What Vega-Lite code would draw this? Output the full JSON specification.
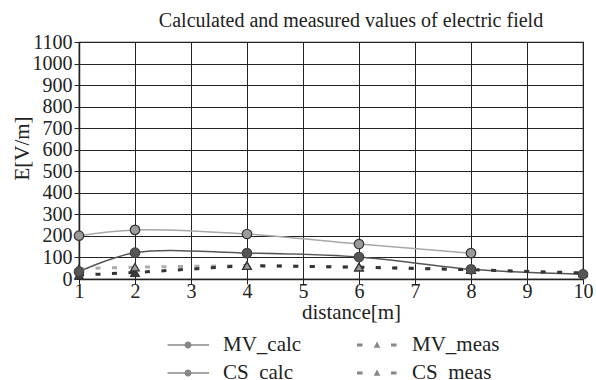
{
  "$schema": "https://vega.github.io/schema/vega-lite/v6.json",
  "width": 504,
  "height": 237,
  "autosize": {"type": "none"},
  "padding": {"left": 79, "top": 42, "right": 13, "bottom": 101},
  "background": "white",
  "title": {
    "text": "Calculated and measured values of electric field",
    "font": "Liberation Serif",
    "fontSize": 20,
    "fontWeight": "normal",
    "color": "#222",
    "anchor": "middle",
    "frame": "group",
    "dx": 20,
    "baseline": "alphabetic",
    "offset": -15
  },
  "datasets": {
    "MV_calc": [
      {"series": "MV_calc", "distance": 1, "E": 34},
      {"series": "MV_calc", "distance": 2, "E": 122},
      {"series": "MV_calc", "distance": 4, "E": 120},
      {"series": "MV_calc", "distance": 6, "E": 102},
      {"series": "MV_calc", "distance": 8, "E": 45},
      {"series": "MV_calc", "distance": 10, "E": 22}
    ],
    "CS_calc": [
      {"series": "CS_calc", "distance": 1, "E": 201},
      {"series": "CS_calc", "distance": 2, "E": 228},
      {"series": "CS_calc", "distance": 4, "E": 209},
      {"series": "CS_calc", "distance": 6, "E": 162},
      {"series": "CS_calc", "distance": 8, "E": 120}
    ],
    "MV_meas": [
      {"series": "MV_meas", "distance": 1, "E": 18},
      {"series": "MV_meas", "distance": 2, "E": 30},
      {"series": "MV_meas", "distance": 4, "E": 62},
      {"series": "MV_meas", "distance": 6, "E": 55},
      {"series": "MV_meas", "distance": 8, "E": 43},
      {"series": "MV_meas", "distance": 10, "E": 28}
    ],
    "CS_meas": [
      {"series": "CS_meas", "distance": 1, "E": 48},
      {"series": "CS_meas", "distance": 2, "E": 55},
      {"series": "CS_meas", "distance": 4, "E": 62},
      {"series": "CS_meas", "distance": 6, "E": 55},
      {"series": "CS_meas", "distance": 8, "E": 45}
    ]
  },
  "encoding": {
    "x": {
      "field": "distance",
      "type": "quantitative",
      "scale": {"domain": [1, 10], "nice": false, "zero": false},
      "axis": {
        "title": "distance[m]",
        "values": [1, 2, 3, 4, 5, 6, 7, 8, 9, 10],
        "format": "d",
        "titleX": 272,
        "titleY": 39,
        "titleBaseline": "alphabetic",
        "titleAlign": "center"
      }
    },
    "y": {
      "field": "E",
      "type": "quantitative",
      "scale": {"domain": [0, 1100], "nice": false},
      "axis": {
        "title": "E[V/m]",
        "values": [0, 100, 200, 300, 400, 500, 600, 700, 800, 900, 1000, 1100],
        "format": "d",
        "titleX": -57,
        "titleY": 106,
        "titleAngle": -90,
        "titleBaseline": "middle",
        "titleAlign": "center"
      }
    }
  },
  "layer": [
    {
      "data": {"name": "CS_calc"},
      "mark": {"type": "line", "interpolate": "catmull-rom", "strokeWidth": 1.5, "stroke": "#a8a8a8"},
      "encoding": {}
    },
    {
      "data": {"name": "MV_calc"},
      "mark": {"type": "line", "interpolate": "catmull-rom", "strokeWidth": 1.5, "stroke": "#555555"},
      "encoding": {}
    },
    {
      "data": {"name": "CS_meas"},
      "mark": {"type": "line", "strokeWidth": 3, "strokeDash": [5, 11.5], "stroke": "#ababab"},
      "encoding": {}
    },
    {
      "data": {"name": "MV_meas"},
      "mark": {"type": "line", "strokeWidth": 3, "strokeDash": [5, 11.5], "stroke": "#333333"},
      "encoding": {}
    },
    {
      "data": {"name": "MV_calc"},
      "mark": {"type": "point", "size": 1, "filled": true, "color": "#555555"},
      "encoding": {
        "shape": {
          "field": "series",
          "type": "nominal",
          "scale": {
            "domain": ["MV_calc", "MV_meas", "CS_calc", "CS_meas"],
            "range": [
              "M-2.05,-0.065H2.1V0.065H-2.05ZM0.35,0A0.35,0.35,0,1,1,-0.35,0A0.35,0.35,0,1,1,0.35,0Z",
              "M-2,-0.15H-1.45V0.15H-2ZM1.4,-0.15H1.95V0.15H1.4ZM0,-0.35L0.33,0.28L-0.33,0.28Z",
              "M-2.05,-0.065H2.1V0.065H-2.05ZM0.35,0A0.35,0.35,0,1,1,-0.35,0A0.35,0.35,0,1,1,0.35,0Z",
              "M-2,-0.15H-1.45V0.15H-2ZM1.4,-0.15H1.95V0.15H1.4ZM0,-0.35L0.33,0.28L-0.33,0.28Z"
            ]
          },
          "legend": {
            "title": null,
            "orient": "none",
            "legendX": 98,
            "legendY": 292,
            "columns": 2,
            "direction": "horizontal",
            "columnPadding": 52,
            "rowPadding": 7,
            "padding": 0,
            "symbolSize": 400,
            "labelOffset": 24,
            "labelFont": "Liberation Serif",
            "labelFontSize": 21,
            "labelColor": "#222",
            "encode": {
              "symbols": {
                "update": {
                  "size": {"value": 400},
                  "opacity": {"value": 1},
                  "fill": {"signal": "datum.value == 'MV_calc' ? '#555555' : datum.value == 'MV_meas' ? '#333333' : '#9a9a9a'"},
                  "strokeWidth": {"value": 0}
                }
              }
            }
          }
        }
      }
    },
    {
      "data": {"name": "MV_meas"},
      "mark": {"type": "point", "shape": "triangle-up", "size": 75, "filled": true, "fill": "#3a3a3a", "stroke": "#333333", "strokeWidth": 1.2, "opacity": 1},
      "encoding": {}
    },
    {
      "data": {"name": "CS_meas"},
      "mark": {"type": "point", "shape": "triangle-up", "size": 75, "filled": true, "fill": "#9a9a9a", "stroke": "#333333", "strokeWidth": 1.2, "opacity": 1},
      "encoding": {}
    },
    {
      "data": {"name": "CS_calc"},
      "mark": {"type": "point", "shape": "circle", "size": 90, "filled": true, "fill": "#9a9a9a", "stroke": "#333333", "strokeWidth": 1.2, "opacity": 1},
      "encoding": {}
    },
    {
      "data": {"name": "MV_calc"},
      "mark": {"type": "point", "shape": "circle", "size": 90, "filled": true, "fill": "#555555", "stroke": "#444444", "strokeWidth": 1.2, "opacity": 1},
      "encoding": {}
    }
  ],
  "config": {
    "font": "Liberation Serif",
    "view": {"stroke": "#222", "strokeWidth": 1.2},
    "axis": {
      "grid": true,
      "gridColor": "#222",
      "gridOpacity": 1,
      "gridWidth": 1,
      "domainColor": "#222",
      "domainWidth": 1.5,
      "tickColor": "#222",
      "tickSize": 5,
      "tickWidth": 1,
      "labelFont": "Liberation Serif",
      "labelFontSize": 20,
      "labelColor": "#222",
      "titleFont": "Liberation Serif",
      "titleFontSize": 21,
      "titleFontWeight": "normal",
      "titleColor": "#222"
    },
    "axisX": {"labelPadding": -3, "labelFlush": false},
    "axisY": {"labelPadding": 2}
  }
}
